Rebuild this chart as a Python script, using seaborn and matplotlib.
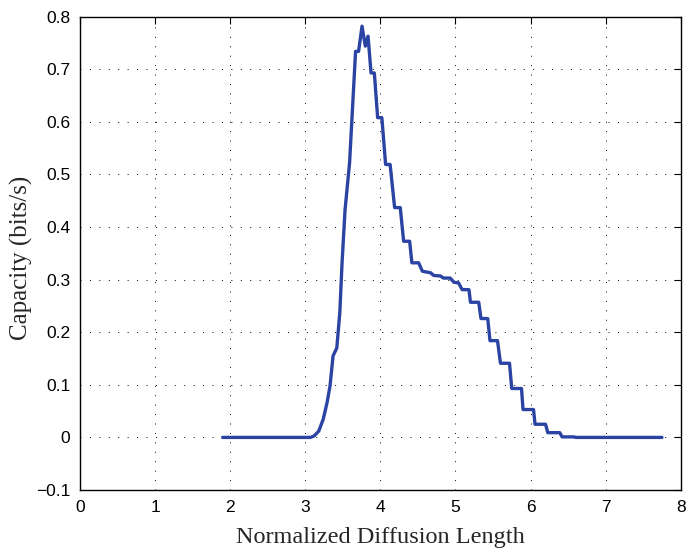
import numpy as np
import pandas as pd
import seaborn as sns
import matplotlib
matplotlib.use("Agg")
import matplotlib.pyplot as plt

# values
diffusion_length = [
    1.90, 3.07, 3.12, 3.18, 3.24, 3.29, 3.33, 3.37, 3.42, 3.46, 3.49, 3.53,
    3.59, 3.67, 3.71, 3.756, 3.80, 3.836, 3.876, 3.92, 3.964, 4.02, 4.07, 4.13,
    4.19, 4.265, 4.31, 4.39, 4.42, 4.51, 4.56, 4.67, 4.71, 4.80, 4.84, 4.93,
    4.98, 5.04, 5.09, 5.18, 5.20, 5.31, 5.34, 5.43, 5.46, 5.56, 5.60, 5.72,
    5.75, 5.88, 5.90, 6.04, 6.06, 6.20, 6.23, 6.39, 6.42, 6.58, 6.60, 7.75,
]
capacity = [
    0.0, 0.0, 0.003, 0.012, 0.035, 0.066, 0.098, 0.155, 0.170, 0.237, 0.332, 0.433,
    0.522, 0.734, 0.734, 0.782, 0.744, 0.763, 0.693, 0.693, 0.608, 0.608, 0.519, 0.519,
    0.437, 0.437, 0.373, 0.373, 0.332, 0.332, 0.316, 0.313, 0.308, 0.307, 0.303, 0.303,
    0.295, 0.294, 0.281, 0.281, 0.257, 0.257, 0.226, 0.226, 0.184, 0.184, 0.141, 0.141,
    0.093, 0.093, 0.053, 0.053, 0.025, 0.025, 0.009, 0.009, 0.001, 0.001, 0.0, 0.0,
]
x_ticks = [0, 1, 2, 3, 4, 5, 6, 7, 8]
y_ticks = [-0.1, 0, 0.1, 0.2, 0.3, 0.4, 0.5, 0.6, 0.7, 0.8]

df = pd.DataFrame({"length": diffusion_length, "capacity": capacity})

sns.set_style("white")
plt.rcParams["font.family"] = ["Liberation Sans", "DejaVu Sans"]

fig = plt.figure(figsize=(6.86, 5.48), dpi=100)
ax = fig.add_axes([80 / 686, 58 / 548, 600.7 / 686, 473.3 / 548])

sns.lineplot(data=df, x="length", y="capacity", ax=ax, sort=False,
             estimator=None, color="#2B44A3", linewidth=2.4)

ax.set_xlim(0, 8)
ax.set_ylim(-0.1, 0.8)
ax.set_xticks(x_ticks)
ax.set_yticks(y_ticks)
ax.set_xticklabels([str(t) for t in x_ticks])
ax.set_yticklabels(["\u22120.1"] + ["0"] + [f"{t:.1f}" for t in y_ticks[2:]])

ax.grid(True, color="black", linestyle=(0, (1, 8.7)), linewidth=0.7)
for s in ax.spines.values():
    s.set_visible(True)
    s.set_color("black")
    s.set_linewidth(1.0)

ax.tick_params(direction="in", length=5, width=0.8, top=True, right=True,
               labelsize=12.5, pad=7, colors="black")

ax.set_xlabel("Normalized Diffusion Length", fontsize=17.5,
              family="Liberation Serif", labelpad=9)
ax.set_ylabel("Capacity (bits/s)", fontsize=18,
              family="Liberation Serif", labelpad=5)
ax.yaxis.set_label_coords(-0.078, 0.49)

fig.savefig("out.png", dpi=100)
